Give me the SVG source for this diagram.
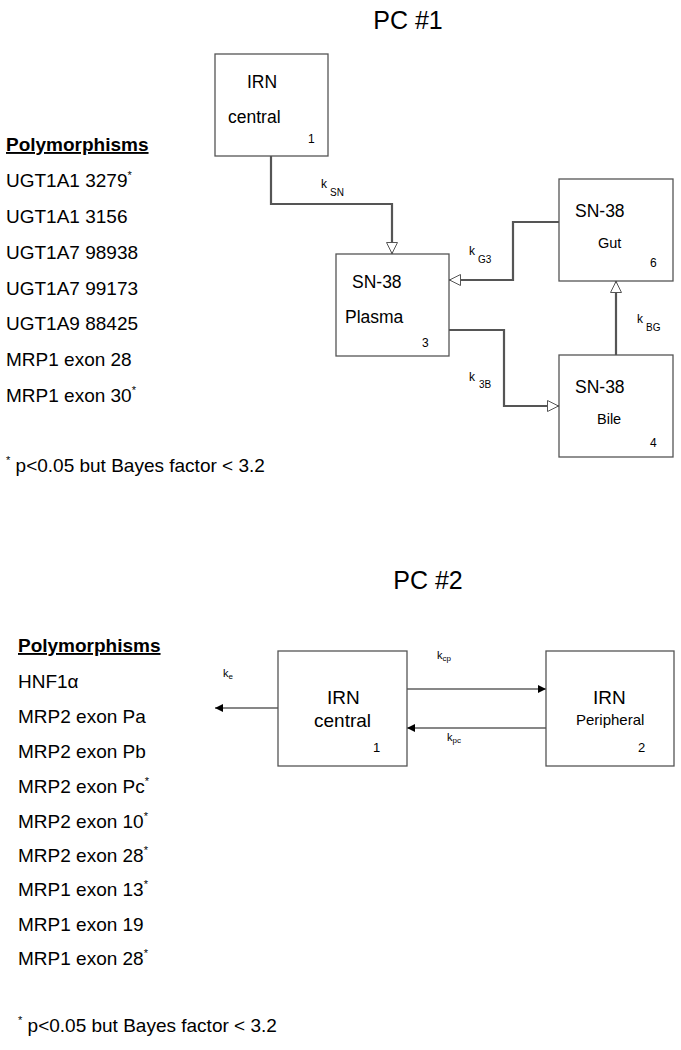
<svg xmlns="http://www.w3.org/2000/svg" width="681" height="1050" viewBox="0 0 681 1050">
<defs>
<style>
text{font-family:"Liberation Sans",Arial,sans-serif;fill:#000}
.box{fill:#fff;stroke:#555;stroke-width:1.3}
.c1{fill:none;stroke:#555;stroke-width:2.2}
.c2{fill:none;stroke:#111;stroke-width:1.2}
.lst{font-size:19px}
.hd{font-size:19px;font-weight:bold;text-decoration:underline}
.t17{font-size:17.5px}
.t14{font-size:14.5px}
.n{font-size:12px}
.k{font-size:12px}
.sub{font-size:10px}
.sup{font-size:11px}
</style>
<marker id="openTri" viewBox="0 0 12 12" refX="12" refY="6" markerWidth="12" markerHeight="12" markerUnits="userSpaceOnUse" orient="auto">
<path d="M0.5,0.5 L11.5,6 L0.5,11.5 Z" fill="#fff" stroke="#555" stroke-width="1"/>
</marker>
<marker id="fillTri" viewBox="0 0 10 10" refX="10" refY="5" markerWidth="8" markerHeight="8" markerUnits="userSpaceOnUse" orient="auto">
<path d="M0,0 L10,5 L0,10 Z" fill="#000"/>
</marker>
</defs>
<rect width="681" height="1050" fill="#fff"/>

<text x="408" y="29" font-size="25" text-anchor="middle">PC #1</text>
<text x="428" y="589" font-size="25" text-anchor="middle">PC #2</text>

<g id="list1">
<text class="hd" x="6" y="151">Polymorphisms</text>
<text class="lst" x="6" y="187">UGT1A1 3279<tspan class="sup" dy="-8">*</tspan></text>
<text class="lst" x="6" y="223">UGT1A1 3156</text>
<text class="lst" x="6" y="259">UGT1A7 98938</text>
<text class="lst" x="6" y="295">UGT1A7 99173</text>
<text class="lst" x="6" y="330">UGT1A9 88425</text>
<text class="lst" x="6" y="366">MRP1 exon 28</text>
<text class="lst" x="6" y="402">MRP1 exon 30<tspan class="sup" dy="-8">*</tspan></text>
<text class="lst" x="6" y="472"><tspan class="sup" dy="-8">*</tspan><tspan dy="8"> p&lt;0.05 but Bayes factor &lt; 3.2</tspan></text>
</g>

<g id="list2">
<text class="hd" x="18" y="652">Polymorphisms</text>
<text class="lst" x="18" y="688">HNF1α</text>
<text class="lst" x="18" y="723">MRP2 exon Pa</text>
<text class="lst" x="18" y="758">MRP2 exon Pb</text>
<text class="lst" x="18" y="793">MRP2 exon Pc<tspan class="sup" dy="-8">*</tspan></text>
<text class="lst" x="18" y="828">MRP2 exon 10<tspan class="sup" dy="-8">*</tspan></text>
<text class="lst" x="18" y="862">MRP2 exon 28<tspan class="sup" dy="-8">*</tspan></text>
<text class="lst" x="18" y="896">MRP1 exon 13<tspan class="sup" dy="-8">*</tspan></text>
<text class="lst" x="18" y="931">MRP1 exon 19</text>
<text class="lst" x="18" y="965">MRP1 exon 28<tspan class="sup" dy="-8">*</tspan></text>
<text class="lst" x="18" y="1032"><tspan class="sup" dy="-8">*</tspan><tspan dy="8"> p&lt;0.05 but Bayes factor &lt; 3.2</tspan></text>
</g>

<g id="connectors">
<path class="c1" d="M271,156 V204 H392 V254" marker-end="url(#openTri)"/>
<path class="c1" d="M559,222 H513 V280 H449" marker-end="url(#openTri)"/>
<path class="c1" d="M449,330 H504 V406 H559" marker-end="url(#openTri)"/>
<path class="c1" d="M616,355 V281" marker-end="url(#openTri)"/>
<text class="k" x="321" y="188">k</text><text class="sub" x="330" y="196">SN</text>
<text class="k" x="469" y="255">k</text><text class="sub" x="478" y="263">G3</text>
<text class="k" x="469" y="381">k</text><text class="sub" x="479" y="388">3B</text>
<text class="k" x="637" y="323">k</text><text class="sub" x="646" y="331">BG</text>

<path class="c2" d="M407,689 H546" marker-end="url(#fillTri)"/>
<path class="c2" d="M546,728 H407" marker-end="url(#fillTri)"/>
<path class="c2" d="M278,708 H215" marker-end="url(#fillTri)"/>
<text font-size="11" x="437" y="659">k<tspan font-size="8" dy="2">cp</tspan></text>
<text font-size="11" x="447" y="741">k<tspan font-size="8" dy="2">pc</tspan></text>
<text font-size="11" x="223" y="677">k<tspan font-size="8" dy="2">e</tspan></text>
</g>

<g id="node-irn-central-1">
<rect class="box" x="215" y="54" width="113" height="102"/>
<text class="t17" x="247" y="88">IRN</text>
<text class="t17" x="228" y="123">central</text>
<text class="n" x="308" y="143">1</text>
</g>
<g id="node-plasma">
<rect class="box" x="336" y="254" width="113" height="102"/>
<text class="t17" x="352" y="288">SN-38</text>
<text class="t17" x="345" y="323">Plasma</text>
<text class="n" x="422" y="347">3</text>
</g>
<g id="node-gut">
<rect class="box" x="559" y="179" width="114" height="102"/>
<text class="t17" x="575" y="217">SN-38</text>
<text class="t14" x="598" y="248">Gut</text>
<text class="n" x="650" y="267">6</text>
</g>
<g id="node-bile">
<rect class="box" x="559" y="355" width="114" height="102"/>
<text class="t17" x="575" y="393">SN-38</text>
<text class="t14" x="597" y="424">Bile</text>
<text class="n" x="650" y="447">4</text>
</g>
<g id="node-irn-central-2">
<rect class="box" x="278" y="651" width="129" height="115"/>
<text font-size="19" x="327" y="704">IRN</text>
<text font-size="19" x="314" y="727">central</text>
<text font-size="13" x="373" y="752">1</text>
</g>
<g id="node-irn-peripheral">
<rect class="box" x="546" y="651" width="128" height="115"/>
<text font-size="19" x="593" y="704">IRN</text>
<text font-size="15" x="576" y="725">Peripheral</text>
<text font-size="13" x="638" y="752">2</text>
</g>
</svg>
